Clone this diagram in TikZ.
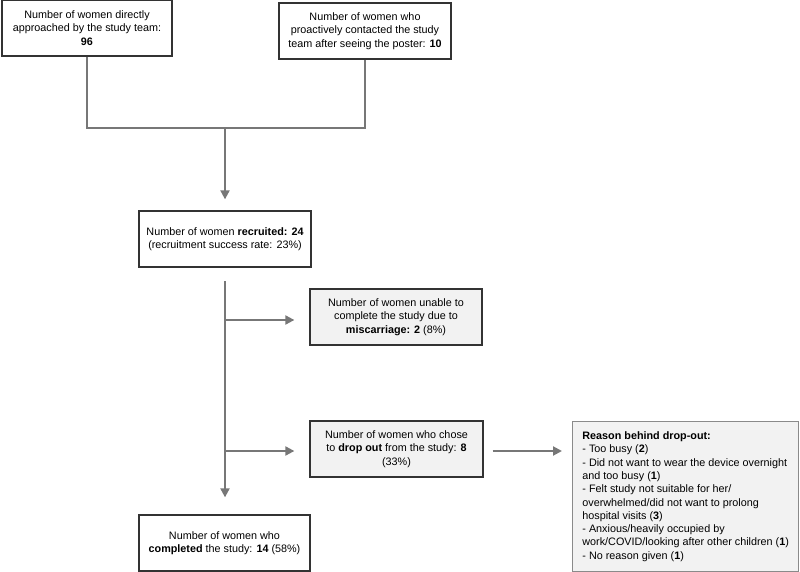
\documentclass[tikz,border=0pt]{standalone}
\usepackage{fontspec}
\setmainfont{Liberation Sans}
\usetikzlibrary{arrows.meta,calc}
\definecolor{linegray}{HTML}{777777}
\definecolor{boxline}{HTML}{333333}
\definecolor{softline}{HTML}{8A8A8A}
\definecolor{softfill}{HTML}{F2F2F2}
\begin{document}
\begin{tikzpicture}[x=1pt,y=-1pt,
  every node/.style={font=\fontsize{10.8}{13.3}\selectfont, inner sep=0pt},
  box/.style={draw=boxline, line width=1.3pt, fill=white, align=center, minimum height=56pt},
  greybox/.style={box, fill=softfill},
  reasonbox/.style={draw=softline, line width=1.3pt, fill=softfill, align=left, minimum width=226pt, minimum height=150pt, anchor=north west},
  conn/.style={draw=linegray, line width=2pt},
  arr/.style={conn, -{Triangle[length=9pt,width=9pt]}}
]
\useasboundingbox (0,0) rectangle (800,572);

\node[box, minimum width=170pt] (a) at (87,28) {Number of women directly\\approached by the study team:\\\textbf{96}};
\node[box, minimum width=172pt] (b) at (365,31) {Number of women who\\proactively contacted the study\\team after seeing the poster: \textbf{10}};
\node[box, minimum width=172pt] (rec) at (225,239) {Number of women \textbf{recruited: 24}\\(recruitment success rate: 23\%)};
\node[greybox, minimum width=172pt] (mis) at (396,317) {Number of women unable to\\complete the study due to\\\textbf{miscarriage: 2} (8\%)};
\node[greybox, minimum width=173pt] (drop) at (396.5,449) {Number of women who chose\\to \textbf{drop out} from the study: \textbf{8}\\(33\%)};
\node[reasonbox] (rsn) at (572,421) {\textbf{Reason behind drop-out:}\\- Too busy (\textbf{2})\\- Did not want to wear the device overnight\\and too busy (\textbf{1})\\- Felt study not suitable for her/\\overwhelmed/did not want to prolong\\hospital visits (\textbf{3})\\- Anxious/heavily occupied by\\work/COVID/looking after other children (\textbf{1})\\- No reason given (\textbf{1})};
\node[box, minimum width=171pt] (comp) at (224.5,543) {Number of women who\\\textbf{completed} the study: \textbf{14} (58\%)};

\coordinate (jn) at (225,128);
\coordinate (trunk) at (225,281);
\coordinate (b1) at (225,320);
\coordinate (b2) at (225,451);

\draw[conn] (a.south) |- (jn) -| (b.south);
\draw[arr] (jn) -- ($(rec.north)+(0,-11)$);
\draw[arr] (trunk) -- ($(trunk |- comp.north)+(0,-17)$);
\draw[arr] (b1) -- ($(b1 -| mis.west)+(-15,0)$);
\draw[arr] (b2) -- ($(b2 -| drop.west)+(-15,0)$);
\draw[arr] ($(b2 -| drop.east)+(9,0)$) -- ($(b2 -| rsn.west)+(-10,0)$);
\end{tikzpicture}
\end{document}
